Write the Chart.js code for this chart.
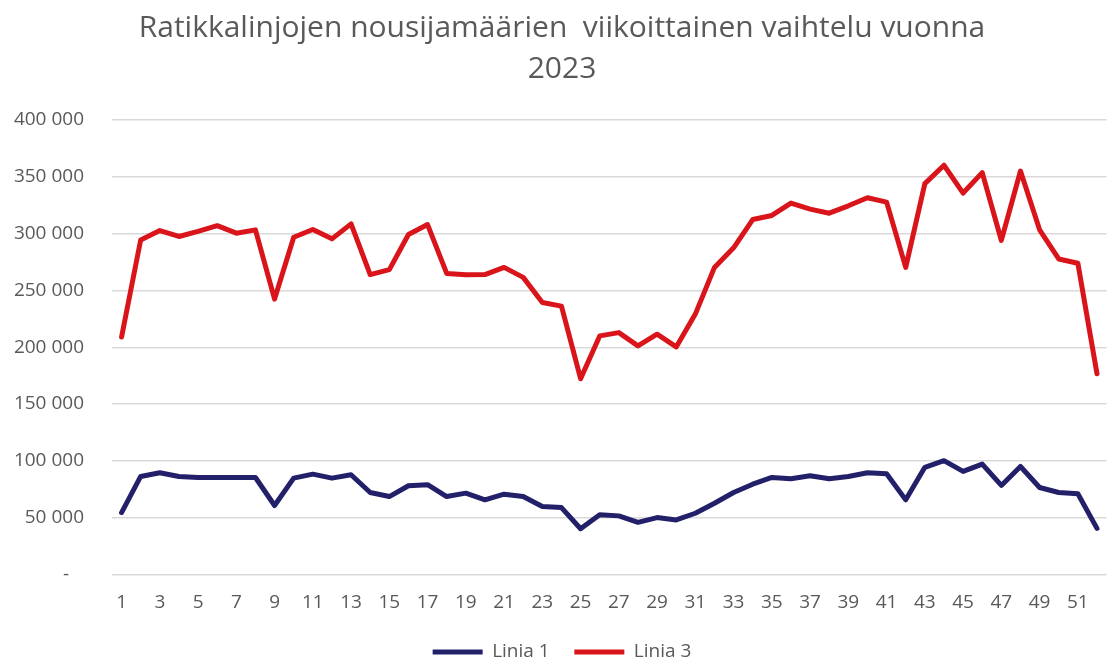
<!DOCTYPE html>
<html>
<head>
<meta charset="utf-8">
<script src="https://cdn.jsdelivr.net/npm/chart.js@4/dist/chart.umd.min.js"></script>
<style>
  html, body { margin: 0; padding: 0; background: #fff; }
  #wrap { width: 1114px; height: 660px; }
</style>
</head>
<body>
<div id="wrap"><canvas id="kaavio"></canvas></div>
<script>
// Viikot 1-52
var viikot = ['1','2','3','4','5','6','7','8','9','10','11','12','13','14','15','16','17','18','19','20',
  '21','22','23','24','25','26','27','28','29','30','31','32','33','34','35','36','37','38','39','40',
  '41','42','43','44','45','46','47','48','49','50','51','52'];

// Nousijamäärät viikoittain (luettu kuvasta)
var linja1 = [54500, 86300, 89600, 86300, 85400, 85400, 85400, 85400, 60700, 84800,
  88300, 84800, 87800, 72200, 68600, 78100, 79000, 68600, 71600, 65700,
  70700, 68600, 59800, 58900, 40300, 52500, 51600, 45900, 50100, 48000,
  53900, 62700, 72200, 79500, 85400, 84300, 86900, 84300, 86300, 89600,
  88700, 65700, 94300, 100200, 90700, 97200, 78400, 95100, 76600, 72200,
  71000, 40600];
var linja3 = [209000, 294500, 302700, 297500, 302000, 307000, 300400, 303300, 242400, 296800,
  303600, 295400, 308600, 263900, 268300, 299200, 308000, 265000, 263900, 264000,
  270300, 261500, 239400, 236200, 172300, 210000, 212900, 201200, 211500, 200300,
  229200, 270300, 287500, 312400, 316000, 326900, 321600, 318000, 324500, 331600,
  327700, 270300, 344000, 360200, 335700, 353700, 294000, 355100, 303400, 277700,
  273900, 176700];

var otsikko = ['Ratikkalinjojen nousijamäärien  viikoittainen vaihtelu vuonna', '2023'];

var harmaa = '#595959';
var fontti = "'Open Sans', sans-serif";

function muotoile(arvo) {
  if (arvo === 0) return '-   ';
  return String(arvo).replace(/\B(?=(\d{3})+(?!\d))/g, ' ');
}

var ctx = document.getElementById('kaavio').getContext('2d');

var kaavio = new Chart(ctx, {
  type: 'line',
  data: {
    labels: viikot,
    datasets: [{
      label: 'Linia 1',
      data: linja1,
      borderColor: '#23206a',
      backgroundColor: '#23206a',
      borderWidth: 5,
      pointRadius: 0,
      tension: 0,
      borderJoinStyle: 'round',
      borderCapStyle: 'round'
    }, {
      label: 'Linia 3',
      data: linja3,
      borderColor: '#d9151b',
      backgroundColor: '#d9151b',
      borderWidth: 5,
      pointRadius: 0,
      tension: 0,
      borderJoinStyle: 'round',
      borderCapStyle: 'round'
    }]
  },
  options: {
    responsive: true,
    maintainAspectRatio: false,
    animation: false,
    layout: { padding: { left: 12, right: 2, top: 0, bottom: -11.5 } },
    plugins: {
      title: {
        display: true,
        text: otsikko,
        color: harmaa,
        font: { family: fontti, size: 30, weight: 'normal', lineHeight: 1.367 },
        padding: { top: 8, bottom: 30 }
      },
      legend: {
        position: 'bottom',
        labels: {
          color: harmaa,
          font: { family: fontti, size: 19 },
          usePointStyle: true,
          pointStyle: 'line',
          pointStyleWidth: 50,
          padding: 0,
          generateLabels: function (chart) {
            var kohteet = Chart.defaults.plugins.legend.labels.generateLabels(chart);
            // väli selitteiden väliin
            kohteet.forEach(function (k, i) {
              if (i < kohteet.length - 1) k.text = k.text + '     ';
            });
            return kohteet;
          }
        }
      },
      tooltip: { enabled: false }
    },
    scales: {
      x: {
        offset: true,
        grid: { display: false, drawTicks: false },
        border: { display: false },
        ticks: {
          color: harmaa,
          font: { family: fontti, size: 19 },
          autoSkip: false,
          maxRotation: 0,
          padding: 17,
          callback: function (v, i) { return i % 2 === 0 ? this.getLabelForValue(v) : ''; }
        },
        afterFit: function (akseli) { akseli.height = 68; }
      },
      y: {
        min: 0,
        max: 400000,
        grid: { color: '#d9d9d9', lineWidth: 1.5, drawTicks: false },
        border: { display: false },
        ticks: {
          stepSize: 50000,
          color: harmaa,
          font: { family: fontti, size: 19 },
          padding: 28,
          callback: function (v) { return muotoile(v); }
        },
        afterFit: function (akseli) { akseli.width = 100; }
      }
    }
  }
});
</script>
</body>
</html>
